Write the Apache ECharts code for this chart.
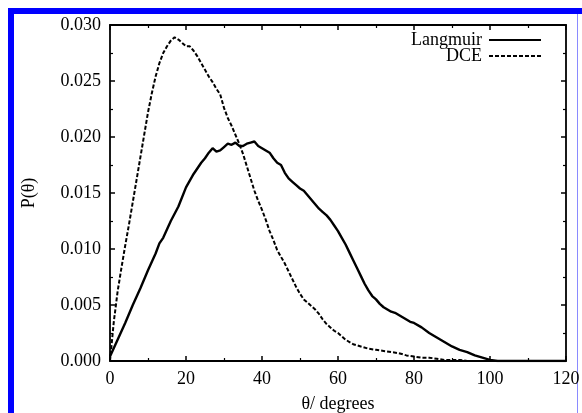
<!DOCTYPE html>
<html>
<head>
<meta charset="utf-8">
<script src="https://cdn.jsdelivr.net/npm/echarts@6/dist/echarts.min.js"></script>
<style>html,body{margin:0;padding:0;background:#fff}#c{width:582px;height:413px}</style>
</head>
<body>
<div id="c"></div>
<script>
const seriesNames = ['Langmuir', 'DCE'];
const xTicks = [0, 20, 40, 60, 80, 100, 120];
const yTicks = [0.000, 0.005, 0.010, 0.015, 0.020, 0.025, 0.030];

const langmuirTheta = [0,2,4,6,8,10,12,13,14,16,18,20,22,24,25,26,27,28,29,30,31,32,33,34,35,36,37,38,39,40,41,42,43,44,45,46,47,48,49,50,51,52,53,54,55,56,57,58,59,60,61,62,63,64,65,66,67,68,69,70,71,72,73,74,75,76,77,78,79,80,82,84,86,88,90,92,94,96,98,100,102,110,120];
const langmuirP = [0.0004,0.0019,0.0034,0.0050,0.0065,0.0081,0.0096,0.0105,0.0110,0.0125,0.0138,0.0155,0.0167,0.0177,0.0181,0.0186,0.0190,0.0187,0.0188,0.0191,0.0194,0.0193,0.0195,0.0192,0.0192,0.0194,0.0195,0.0196,0.0192,0.0190,0.0188,0.0186,0.0181,0.0177,0.0175,0.0168,0.0163,0.0160,0.0157,0.0154,0.0152,0.0148,0.0144,0.0140,0.0136,0.0133,0.0130,0.0126,0.0121,0.0116,0.0110,0.0104,0.0097,0.0090,0.0083,0.0076,0.0069,0.0063,0.0058,0.0055,0.0051,0.0048,0.0046,0.0044,0.0043,0.0041,0.0039,0.0037,0.0035,0.0034,0.0030,0.0025,0.0021,0.0017,0.0013,0.0010,0.0008,0.0005,0.0003,0.0001,0.0000,0.0000,0.0000];

const dceTheta = [0,1,2,3,4,5,6,7,8,9,10,11,12,13,14,15,16,17,18,19,20,21,22,23,24,25,26,27,28,29,30,31,32,33,34,35,36,37,38,39,40,41,42,43,44,45,46,47,48,49,50,51,52,53,54,55,56,57,58,59,60,62,64,66,68,70,72,74,76,78,80,82,84,86,88,90,92,94,96,100,110,120];
const dceP = [0.0000,0.0035,0.0062,0.0083,0.0103,0.0122,0.0142,0.0162,0.0182,0.0202,0.0222,0.0239,0.0254,0.0266,0.0275,0.0281,0.0286,0.0289,0.0287,0.0284,0.0281,0.0281,0.0277,0.0272,0.0266,0.0260,0.0254,0.0249,0.0243,0.0238,0.0226,0.0217,0.0210,0.0202,0.0194,0.0185,0.0174,0.0163,0.0152,0.0143,0.0135,0.0126,0.0116,0.0108,0.0099,0.0093,0.0087,0.0080,0.0073,0.0066,0.0060,0.0055,0.0052,0.0049,0.0046,0.0042,0.0037,0.0033,0.0030,0.0027,0.0025,0.0019,0.0015,0.0013,0.0011,0.0010,0.0009,0.0008,0.0007,0.0005,0.0004,0.0003,0.0003,0.0002,0.0001,0.0001,0.0001,0.0000,0.0000,0.0000,0.0000,0.0000];

const FONT = "'Liberation Serif','Times New Roman',serif";
const FS = 18;
const zip = (a, b) => a.map((v, i) => [v, b[i]]);

const chart = echarts.init(document.getElementById('c'), null, {renderer: 'canvas'});
const axisCommon = {
  axisLine: {show: true, onZero: false, lineStyle: {color: '#000', width: 1.8}},
  axisTick: {show: true, inside: true, length: 5, lineStyle: {color: '#000', width: 1.5}},
  minorTick: {show: true, splitNumber: 2, length: 3, lineStyle: {color: '#000', width: 1.2}},
  splitLine: {show: false}
};
const legendCommon = {
  right: 40, orient: 'horizontal', align: 'right', itemWidth: 52, itemHeight: 10, itemGap: 6,
  textStyle: {fontFamily: FONT, fontSize: FS, color: '#000', padding: [0, 2, 0, 0]},
  itemStyle: {opacity: 0, borderWidth: 0},
  padding: 0, selectedMode: false
};
chart.setOption({
  animation: false,
  backgroundColor: '#fff',
  grid: {left: 110, right: 16, top: 25, bottom: 52, containLabel: false, outerBoundsMode: 'none'},
  legend: [
    Object.assign({}, legendCommon, {data: [seriesNames[0]], top: 31}),
    Object.assign({}, legendCommon, {data: [seriesNames[1]], top: 47})
  ],
  xAxis: [
    Object.assign({}, axisCommon, {
      type: 'value', min: xTicks[0], max: xTicks[xTicks.length - 1], interval: 20,
      name: 'θ/ degrees', nameLocation: 'middle', nameGap: 34,
      nameTextStyle: {fontFamily: FONT, fontSize: FS, color: '#000'},
      axisLabel: {fontFamily: FONT, fontSize: FS, color: '#000', margin: 9}
    }),
    Object.assign({}, axisCommon, {
      type: 'value', position: 'top', min: xTicks[0], max: xTicks[xTicks.length - 1], interval: 20,
      axisLabel: {show: false}
    })
  ],
  yAxis: [
    Object.assign({}, axisCommon, {
      type: 'value', min: yTicks[0], max: yTicks[yTicks.length - 1], interval: 0.005,
      name: 'P(θ)', nameLocation: 'middle', nameGap: 72, nameRotate: 90,
      nameTextStyle: {fontFamily: FONT, fontSize: FS, color: '#000'},
      axisLabel: {fontFamily: FONT, fontSize: FS, color: '#000', margin: 9, formatter: v => v.toFixed(3)}
    }),
    Object.assign({}, axisCommon, {
      type: 'value', position: 'right', min: yTicks[0], max: yTicks[yTicks.length - 1], interval: 0.005,
      axisLabel: {show: false}
    })
  ],
  series: [
    {name: seriesNames[0], type: 'line', data: zip(langmuirTheta, langmuirP), showSymbol: false, symbol: 'none',
     lineStyle: {color: '#000', width: 2.4, type: 'solid'}, itemStyle: {color: '#000'}},
    {name: seriesNames[1], type: 'line', data: zip(dceTheta, dceP), showSymbol: false, symbol: 'none',
     lineStyle: {color: '#000', width: 2, type: [4, 2]}, itemStyle: {color: '#000'}}
  ],
  graphic: [
    {type: 'rect', shape: {x: 8, y: 8, width: 574, height: 6}, style: {fill: '#0000ff'}, silent: true},
    {type: 'rect', shape: {x: 8, y: 8, width: 6, height: 405}, style: {fill: '#0000ff'}, silent: true},
    {type: 'rect', shape: {x: 577, y: 14, width: 1, height: 399}, style: {fill: '#8a8aff'}, silent: true}
  ]
});
</script>
</body>
</html>
